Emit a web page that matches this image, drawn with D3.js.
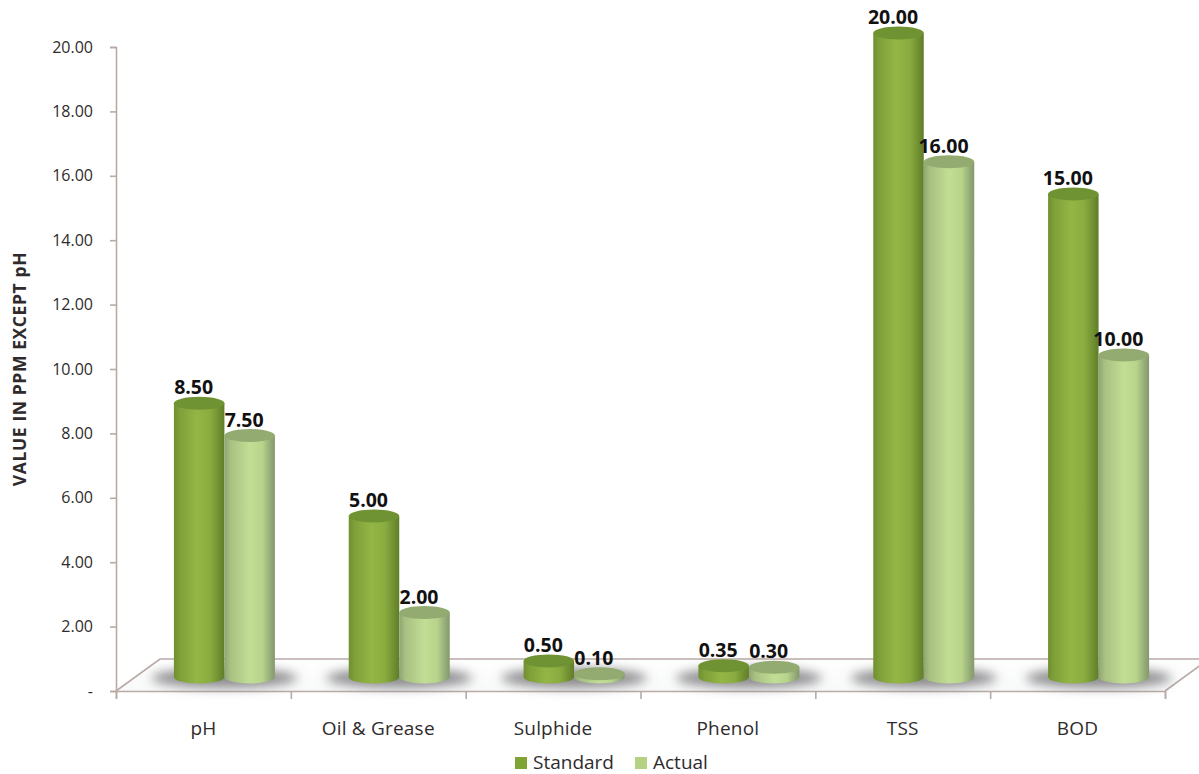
<!DOCTYPE html>
<html>
<head>
<meta charset="utf-8">
<script src="https://cdnjs.cloudflare.com/ajax/libs/d3/7.8.5/d3.min.js"></script>
<style>
html,body{margin:0;padding:0;background:#fff}
svg{display:block}
text{font-family:"Open Sans","Noto Sans",sans-serif}
</style>
</head>
<body>
<svg id="chart" width="1199" height="774"></svg>
<script>
// Effluent quality: standard limit against actual reading per parameter
const categories = ["pH", "Oil & Grease", "Sulphide", "Phenol", "TSS", "BOD"];
const standardValues = [8.5, 5, 0.5, 0.35, 20, 15];
const actualValues = [7.5, 2, 0.1, 0.3, 16, 10];
const yTicks = [0, 2, 4, 6, 8, 10, 12, 14, 16, 18, 20];
const seriesNames = ["Standard", "Actual"];

const svg = d3.select("#chart");
const axisColor = "#b9aaa6";
const textColor = "#2f2b2c";

const x = d3.scaleBand().domain(categories).range([116, 1165]);
const y = d3.scaleLinear().domain([0, 20]).range([691, 47]);
const series = d3.scaleBand().domain(seriesNames).range([0, 101]);

// Oblique floor depth of the pseudo-3D plot
const depthX = 44, depthY = 32;
const baseRise = 14;      // bar base centre sits this far above the front floor edge
const groupShift = 21;    // bars are pushed toward the back of the floor
const ry = 6.5;

const defs = svg.append("defs");

function cylinderGradient(id, stops) {
  const g = defs.append("linearGradient").attr("id", id)
    .attr("x1", "0%").attr("x2", "100%").attr("y1", "0%").attr("y2", "0%");
  stops.forEach(([o, c]) => g.append("stop").attr("offset", o).attr("stop-color", c));
}
cylinderGradient("bodyStandard", [[0, "#6f9030"], [0.12, "#7f9f38"], [0.45, "#94b646"], [0.72, "#8aab3f"], [0.92, "#6c8b2f"], [1, "#5f7d2a"]]);
cylinderGradient("bodyActual", [[0, "#8fa572"], [0.12, "#a8c081"], [0.5, "#c2de95"], [0.75, "#b8d48b"], [0.92, "#93a977"], [1, "#84996b"]]);

defs.append("filter").attr("id", "soft")
  .attr("x", "-30%").attr("y", "-100%").attr("width", "160%").attr("height", "300%")
  .append("feGaussianBlur").attr("stdDeviation", 5.5);

const floorFill = defs.append("linearGradient").attr("id", "floorFill")
  .attr("x1", "0%").attr("x2", "0%").attr("y1", "0%").attr("y2", "100%");
floorFill.append("stop").attr("offset", 0).attr("stop-color", "#ffffff");
floorFill.append("stop").attr("offset", 1).attr("stop-color", "#f8f9f9");

// Floor plane
const [x0, x1] = x.range();
const y0 = y(0);
svg.append("path")
  .attr("d", `M${x0},${y0}L${x0 + depthX},${y0 - depthY}L${x1 + depthX},${y0 - depthY}L${x1},${y0}Z`)
  .attr("fill", "url(#floorFill)");
svg.append("path")
  .attr("d", `M${x0},${y0}L${x0 + depthX},${y0 - depthY}L${x1 + depthX},${y0 - depthY}M${x1 + depthX},${y0 - depthY}L${x1},${y0}`)
  .attr("fill", "none").attr("stroke", axisColor).attr("stroke-width", 1.6);

// Value axis
const yAxis = d3.axisLeft(y).tickValues(yTicks).tickSize(6).tickPadding(17)
  .tickFormat(d => d === 0 ? "-" : d3.format(".2f")(d));
const yG = svg.append("g").attr("transform", `translate(${x0},0)`).call(yAxis);
yG.selectAll("path,line").attr("stroke", axisColor).attr("stroke-width", 1.6);
yG.selectAll("text").attr("fill", textColor).attr("font-size", 16).attr("font-family", null);

// Category axis
const edges = categories.map(c => x(c)).concat([x1]);
const xAxisScale = d3.scaleLinear().domain([x0, x1]).range([x0, x1]);
const xG = svg.append("g").attr("transform", `translate(0,${y0})`)
  .call(d3.axisBottom(xAxisScale).tickValues(edges).tickSize(8).tickFormat(""));
xG.selectAll("path,line").attr("stroke", axisColor).attr("stroke-width", 1.6);

svg.append("g").selectAll("text").data(categories).join("text")
  .attr("x", c => x(c) + x.bandwidth() / 2)
  .attr("y", 735)
  .attr("text-anchor", "middle")
  .attr("font-size", 19)
  .attr("letter-spacing", 0.2)
  .attr("fill", textColor)
  .text(c => c);

svg.append("text")
  .attr("transform", "translate(26,369) rotate(-90)")
  .attr("text-anchor", "middle")
  .attr("font-size", 17.5)
  .attr("font-weight", 700)
  .attr("letter-spacing", 0.6)
  .attr("fill", textColor)
  .text("VALUE IN PPM EXCEPT pH");

// Floor shadows under each pair of bars
const groupCentre = c => x(c) + x.bandwidth() / 2 + groupShift;
svg.append("g").selectAll("ellipse").data(categories).join("ellipse")
  .attr("cx", groupCentre)
  .attr("cy", y(0) - baseRise + 1)
  .attr("rx", 73)
  .attr("ry", 10)
  .attr("fill", "#8d8d90")
  .attr("filter", "url(#soft)");

// One cylinder: body path plus a top cap
function drawCylinders(name, values, bodyId, capColor) {
  const rows = categories.map((c, i) => ({ c, v: values[i] }));
  const g = svg.append("g").attr("class", "series-" + name);
  const left = d => x(d.c) + x.bandwidth() / 2 + groupShift - series.range()[1] / 2 + series(name);
  const w = series.bandwidth();
  const base = y(0) - baseRise;
  const top = d => y(d.v) - baseRise;
  g.selectAll("path").data(rows).join("path")
    .attr("d", d => `M${left(d)},${top(d)}` +
      `L${left(d)},${base}` +
      `A${w / 2},${ry} 0 0 0 ${left(d) + w},${base}` +
      `L${left(d) + w},${top(d)}Z`)
    .attr("fill", `url(#${bodyId})`);
  g.selectAll("ellipse").data(rows).join("ellipse")
    .attr("cx", d => left(d) + w / 2)
    .attr("cy", top)
    .attr("rx", w / 2)
    .attr("ry", ry)
    .attr("fill", capColor);
  return rows.map(d => ({ cx: left(d) + w / 2, top: top(d), v: d.v }));
}

const standardBars = drawCylinders("Standard", standardValues, "bodyStandard", "#6f9233");
const actualBars = drawCylinders("Actual", actualValues, "bodyActual", "#93ab70");

// Value labels above the bars
svg.append("g").selectAll("text").data(standardBars.concat(actualBars)).join("text")
  .attr("x", d => d.cx - 5.5)
  .attr("y", d => d.top - 9)
  .attr("text-anchor", "middle")
  .attr("font-size", 19.5)
  .attr("font-weight", 700)
  .attr("fill", "#111")
  .text(d => d3.format(".2f")(d.v));

// Legend
const legendItems = seriesNames.map((n, i) => ({
  name: n,
  swatchX: [515, 635][i],
  color: ["#7fa334", "#b5d284"][i]
}));
const legend = svg.append("g");
legend.selectAll("rect").data(legendItems).join("rect")
  .attr("x", d => d.swatchX).attr("y", 757)
  .attr("width", 12).attr("height", 12)
  .attr("fill", d => d.color);
legend.selectAll("text").data(legendItems).join("text")
  .attr("x", d => d.swatchX + 18).attr("y", 769)
  .attr("font-size", 19)
  .attr("fill", textColor)
  .text(d => d.name);
</script>
</body>
</html>
